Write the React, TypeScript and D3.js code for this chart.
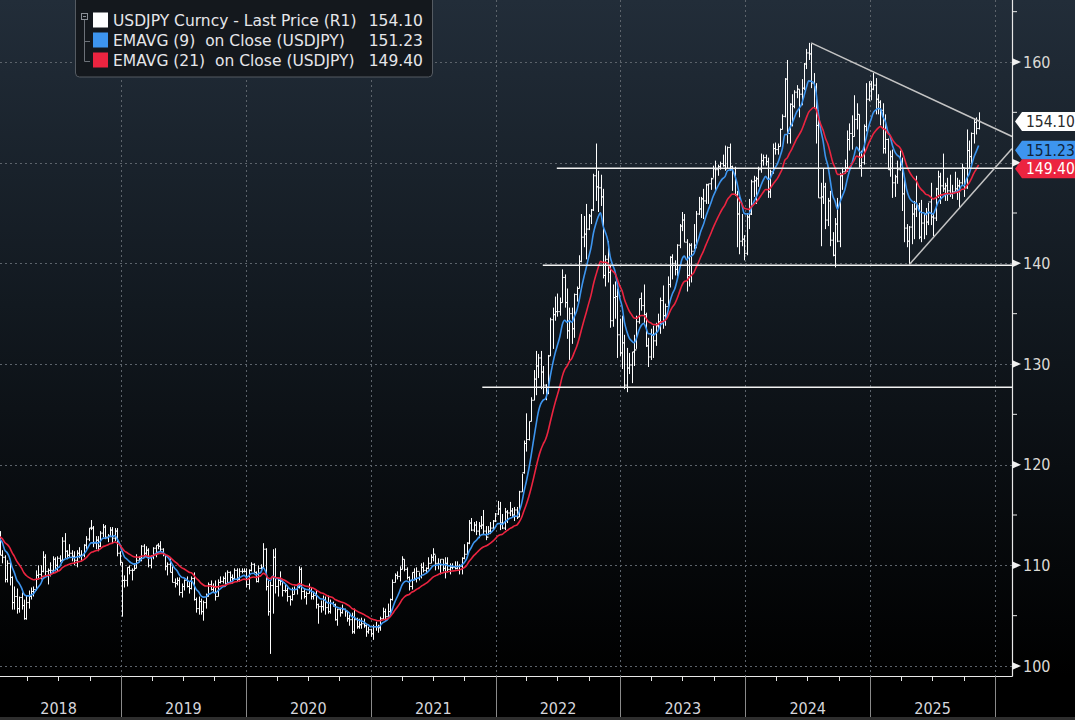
import * as d3 from "d3";

document.body.style.margin = "0";
document.body.style.background = "#000";

const W = 1075;
const H = 720;
const PLOT_R = 1012;
const PLOT_B = 676;

const FONT = "'DejaVu Sans Condensed', 'DejaVu Sans', sans-serif";
const LEGEND_FONT = "'DejaVu Sans', sans-serif";

// weekly bars: [high, low, close]; open = previous close
const firstOpen = 112.7;

const bars2018 = [
  [113.3, 112.0, 113.0], [113.4, 111.0, 111.0], [111.5, 110.2, 110.8], [111.0, 108.3, 108.6],
  [110.5, 108.3, 110.2], [110.5, 108.0, 108.8], [108.9, 105.6, 106.3], [107.9, 105.6, 106.9],
  [107.7, 105.2, 105.7], [106.9, 105.3, 106.8], [107.3, 105.6, 106.0], [106.6, 104.6, 104.7],
  [107.0, 104.6, 106.3], [107.5, 105.7, 106.9], [107.8, 106.6, 107.4], [107.9, 106.9, 107.6],
  [109.5, 107.5, 109.0], [110.0, 108.6, 109.1], [110.0, 108.6, 109.4], [111.4, 109.3, 110.8],
  [111.1, 108.9, 109.4], [109.7, 108.1, 109.5], [110.3, 108.9, 109.5], [110.9, 109.2, 110.6],
  [110.8, 109.4, 110.0], [110.9, 109.4, 110.7], [111.0, 110.3, 110.5], [112.8, 110.3, 112.4],
  [113.2, 110.7, 111.4], [111.5, 110.6, 111.0], [112.1, 110.8, 111.2], [111.5, 110.4, 110.9],
  [111.4, 110.0, 110.5], [111.5, 109.8, 111.2], [111.8, 110.7, 111.0], [111.5, 110.4, 111.0],
  [112.1, 110.8, 112.0], [112.9, 111.6, 112.6], [113.7, 112.4, 113.7], [114.5, 113.5, 113.7],
  [113.9, 111.8, 112.2], [112.9, 111.6, 112.5], [112.9, 111.4, 111.9], [113.4, 111.8, 113.2],
  [114.1, 112.8, 113.8], [114.0, 112.6, 112.8], [113.1, 112.3, 112.9], [113.8, 112.8, 113.5],
  [113.8, 112.2, 112.7], [113.7, 112.4, 113.4], [113.7, 110.9, 111.2], [111.4, 110.0, 110.3],
];

const bars2019 = [
  [110.3, 104.9, 108.5], [109.0, 107.8, 108.5], [109.8, 107.9, 109.8], [110.0, 109.1, 109.5],
  [109.7, 108.5, 109.5], [110.2, 109.5, 109.7], [111.1, 109.7, 110.5], [110.9, 110.3, 110.7],
  [112.0, 110.4, 111.9], [112.1, 110.8, 111.2], [111.9, 110.8, 111.5], [111.7, 109.8, 110.0],
  [111.0, 109.7, 110.9], [111.8, 110.6, 111.7], [112.0, 110.8, 112.0], [112.2, 111.6, 111.9],
  [112.4, 111.4, 111.6], [111.7, 110.9, 111.1], [111.1, 109.5, 109.9], [110.3, 109.0, 110.1],
  [110.7, 109.3, 109.3], [109.9, 108.3, 108.3], [108.7, 107.8, 108.2], [108.8, 108.0, 108.5],
  [108.8, 107.0, 107.3], [108.2, 106.8, 107.9], [108.6, 107.5, 108.5], [108.9, 107.8, 107.9],
  [108.4, 107.2, 107.7], [108.9, 107.6, 108.7], [109.3, 106.5, 106.6], [106.8, 105.3, 105.7],
  [106.9, 105.1, 106.4], [106.7, 105.1, 105.4], [106.5, 104.5, 106.3], [107.2, 105.7, 106.9],
  [108.3, 106.9, 108.1], [108.5, 107.5, 107.6], [108.2, 107.3, 107.9], [108.5, 106.5, 106.9],
  [108.6, 106.9, 108.3], [108.9, 108.2, 108.4], [108.9, 108.2, 108.7], [109.3, 107.9, 108.2],
  [109.5, 108.2, 109.3], [109.4, 108.3, 108.8], [109.1, 108.2, 108.7], [109.7, 108.6, 109.5],
  [109.7, 108.4, 108.6], [109.7, 108.4, 109.4], [109.7, 109.2, 109.4], [109.7, 109.3, 109.4],
];

const bars2020 = [
  [109.7, 107.8, 108.1], [109.6, 107.6, 109.5], [110.3, 109.4, 110.1], [110.2, 109.3, 109.3],
  [109.4, 108.3, 108.4], [110.0, 108.3, 109.7], [110.1, 109.6, 109.8], [112.2, 109.7, 111.6],
  [111.7, 107.5, 107.9], [108.5, 105.0, 105.4], [108.4, 101.2, 108.0], [111.6, 105.2, 110.8],
  [111.7, 107.2, 107.9], [108.7, 106.9, 108.5], [109.4, 108.0, 108.4], [108.5, 106.9, 107.5],
  [108.1, 107.3, 107.5], [107.8, 106.4, 106.9], [107.0, 106.0, 106.6], [107.8, 106.5, 107.1],
  [107.9, 107.1, 107.6], [108.0, 107.1, 107.8], [109.9, 107.7, 109.6], [109.8, 106.6, 107.4],
  [107.7, 106.7, 106.9], [107.4, 106.1, 107.2], [108.2, 107.2, 107.5], [107.8, 106.6, 106.9],
  [107.4, 106.6, 107.0], [107.5, 105.7, 106.1], [106.2, 104.2, 105.9], [106.5, 105.3, 105.9],
  [107.0, 105.5, 106.6], [106.9, 105.1, 105.8], [107.0, 105.2, 105.4], [106.6, 105.2, 106.2],
  [106.4, 105.9, 106.1], [106.2, 104.5, 104.6], [105.7, 104.0, 105.6], [105.8, 104.9, 105.3],
  [106.1, 105.2, 105.6], [105.7, 104.9, 105.4], [105.5, 104.4, 104.7], [105.1, 104.0, 104.6],
  [105.3, 103.2, 103.4], [105.7, 103.2, 104.6], [104.8, 103.7, 103.9], [104.7, 103.7, 104.1],
  [104.8, 103.7, 104.2], [104.7, 103.8, 104.0], [104.2, 102.9, 103.4], [103.9, 103.2, 103.6],
];

const bars2021 = [
  [103.7, 102.9, 103.2], [104.1, 102.6, 103.9], [104.4, 103.5, 103.9], [104.1, 103.3, 103.8],
  [104.9, 103.5, 104.7], [105.8, 104.6, 105.4], [105.7, 104.5, 104.9], [106.2, 104.9, 105.4],
  [106.7, 105.1, 106.6], [108.6, 106.5, 108.3], [109.2, 108.3, 109.0], [109.4, 108.6, 108.9],
  [109.9, 108.4, 109.6], [110.9, 109.6, 110.6], [110.6, 109.4, 109.6], [109.8, 108.6, 108.8],
  [108.9, 107.5, 107.9], [109.3, 107.6, 109.3], [109.7, 108.5, 108.6], [109.8, 108.3, 109.4],
  [109.3, 108.5, 108.9], [110.2, 108.7, 109.8], [110.3, 109.3, 109.5], [109.8, 109.2, 109.7],
  [110.8, 109.6, 110.2], [111.1, 110.2, 110.8], [111.7, 110.4, 111.1], [111.0, 109.5, 110.2],
  [110.7, 109.6, 110.1], [110.6, 109.1, 110.6], [110.6, 109.4, 109.7], [110.8, 108.7, 110.2],
  [110.8, 109.3, 109.6], [110.2, 109.1, 109.8], [110.2, 109.6, 109.8], [110.4, 109.6, 109.7],
  [110.4, 109.6, 109.9], [110.1, 109.1, 109.9], [110.8, 109.1, 110.7], [112.1, 110.6, 111.1],
  [112.3, 110.8, 112.2], [114.5, 112.1, 114.2], [114.7, 113.4, 113.5], [114.3, 113.3, 114.0],
  [114.4, 113.0, 113.4], [114.3, 112.7, 113.9], [114.9, 113.6, 114.0], [115.5, 113.0, 113.4],
  [113.9, 112.5, 112.8], [113.9, 113.0, 113.4], [114.3, 113.1, 113.7], [114.5, 113.5, 114.4],
  [115.2, 114.3, 115.1],
];

const bars2022 = [
  [116.4, 115.0, 115.6], [116.3, 113.5, 114.2], [115.1, 113.6, 113.7], [115.7, 113.5, 115.3],
  [115.5, 114.2, 115.2], [116.3, 114.9, 115.4], [115.7, 114.7, 115.0], [115.8, 114.4, 115.5],
  [115.8, 114.6, 114.8], [117.4, 114.8, 117.3], [119.1, 117.3, 119.2], [122.4, 119.1, 122.1],
  [125.1, 121.3, 122.5], [124.3, 122.4, 124.3], [126.7, 124.3, 126.4], [129.4, 126.4, 128.5],
  [131.3, 126.9, 129.8], [131.0, 128.6, 130.6], [131.3, 127.5, 129.2], [129.8, 127.0, 127.9],
  [128.0, 126.4, 127.1], [130.9, 127.0, 130.8], [134.6, 130.8, 134.4], [135.6, 131.5, 134.9],
  [136.7, 134.3, 135.2], [137.0, 134.7, 135.2], [136.6, 134.8, 136.1], [139.4, 136.1, 138.6],
  [138.9, 135.6, 136.1], [137.5, 132.5, 133.3], [135.6, 130.4, 135.0], [135.6, 132.0, 133.5],
  [137.0, 132.6, 136.9], [137.7, 136.2, 137.5], [140.8, 137.5, 140.2], [144.9, 140.1, 142.6],
  [144.7, 141.6, 142.9], [145.9, 140.4, 143.4], [144.9, 143.3, 144.7], [145.4, 143.9, 145.3],
  [148.9, 145.2, 148.7], [151.9, 146.2, 147.6], [149.2, 145.1, 147.5], [148.8, 145.7, 146.6],
  [147.4, 138.5, 138.8], [140.8, 137.7, 140.4], [142.2, 138.1, 139.1], [139.8, 133.6, 134.3],
  [137.9, 133.7, 136.6], [138.2, 134.5, 136.7], [137.5, 130.6, 132.9], [134.5, 130.8, 131.1],
];

const bars2023 = [
  [134.8, 129.5, 132.1], [132.9, 127.5, 127.9], [131.6, 127.2, 129.6], [131.1, 129.0, 129.9],
  [131.2, 128.1, 131.2], [132.9, 129.8, 131.4], [134.8, 131.5, 134.2], [136.5, 134.0, 136.5],
  [137.1, 135.3, 135.8], [137.9, 134.1, 134.9], [135.1, 131.7, 131.8], [132.6, 129.7, 130.7],
  [133.5, 130.4, 132.9], [133.8, 130.6, 132.3], [134.1, 131.8, 133.8], [135.0, 133.4, 134.2],
  [136.6, 133.0, 136.3], [137.8, 133.5, 134.8], [136.0, 133.8, 135.7], [138.7, 135.6, 137.9],
  [140.7, 137.6, 140.6], [140.9, 138.4, 140.0], [140.3, 138.8, 139.4], [141.9, 138.7, 141.8],
  [143.9, 141.5, 143.7], [145.1, 143.2, 144.3], [144.9, 142.1, 142.1], [142.4, 137.2, 138.8],
  [142.0, 137.7, 141.8], [142.0, 138.1, 141.2], [143.9, 141.4, 141.8], [145.2, 141.5, 144.9],
  [146.6, 144.8, 145.4], [146.6, 144.5, 146.4], [147.4, 144.4, 146.2], [147.9, 145.9, 147.8],
  [147.9, 145.9, 147.9], [148.5, 147.3, 148.4], [149.7, 148.5, 149.4], [150.2, 147.3, 149.3],
  [149.8, 148.7, 149.6], [150.1, 149.3, 149.9], [150.8, 149.6, 149.7], [151.7, 149.2, 149.4],
  [151.6, 149.4, 151.5], [151.9, 149.2, 149.6], [149.7, 147.2, 149.4], [149.6, 146.7, 146.8],
  [147.2, 141.6, 144.9], [146.6, 140.9, 142.2], [144.9, 141.7, 142.4], [142.8, 140.3, 141.0],
];

const bars2024 = [
  [145.0, 140.8, 144.6], [146.4, 143.4, 144.9], [148.3, 144.8, 148.1], [148.7, 146.6, 148.2],
  [148.6, 145.9, 148.4], [149.6, 147.6, 149.3], [150.9, 149.0, 150.2], [150.8, 149.7, 150.5],
  [150.8, 149.7, 150.1], [150.5, 146.5, 147.1], [149.3, 146.5, 149.1], [151.9, 148.9, 151.4],
  [152.0, 150.8, 151.3], [151.9, 150.8, 151.6], [153.4, 151.6, 153.3], [154.8, 153.3, 154.6],
  [158.4, 154.5, 158.3], [160.2, 151.9, 152.9], [155.9, 151.9, 155.8], [156.8, 153.6, 155.6],
  [157.2, 155.4, 157.0], [157.7, 156.4, 157.3], [157.3, 154.5, 156.8], [158.3, 155.7, 157.4],
  [159.9, 157.2, 159.8], [161.3, 159.3, 160.9], [161.9, 160.2, 160.8], [161.8, 157.4, 157.9],
  [158.9, 155.4, 157.5], [157.9, 151.9, 153.7], [155.2, 146.5, 146.5], [148.0, 141.7, 146.6],
  [149.4, 145.9, 147.6], [148.0, 143.4, 144.3], [146.5, 143.7, 146.2], [147.2, 141.7, 142.3],
  [143.1, 140.7, 140.8], [144.5, 139.6, 143.9], [146.5, 142.1, 142.2], [149.0, 141.6, 148.7],
  [149.5, 147.3, 149.1], [150.3, 148.9, 149.5], [153.2, 149.1, 152.3], [153.9, 151.2, 152.9],
  [154.7, 151.3, 152.6], [156.7, 152.6, 154.3], [155.9, 153.3, 154.8], [154.8, 149.5, 149.7],
  [151.2, 148.6, 150.0], [153.8, 149.8, 153.6], [157.9, 153.1, 156.3], [158.1, 156.1, 157.8],
];

const bars2025 = [
  [158.1, 156.2, 157.3], [158.9, 157.2, 157.7], [158.4, 154.8, 156.3], [156.8, 154.8, 156.0],
  [156.2, 153.7, 155.2], [155.9, 150.9, 151.4], [154.8, 150.9, 152.3], [152.4, 149.3, 149.3],
  [151.2, 148.6, 150.6], [151.3, 146.5, 148.0], [148.8, 146.6, 148.6], [150.2, 147.9, 149.3],
  [151.2, 149.2, 149.8], [150.5, 145.2, 146.9], [148.3, 142.1, 143.5], [143.9, 141.6, 142.2],
  [143.7, 139.9, 143.6], [145.9, 141.9, 144.9], [146.2, 142.4, 145.4], [148.7, 144.6, 145.7],
  [146.0, 142.4, 142.6], [146.3, 142.1, 144.0], [144.9, 142.4, 144.9], [145.5, 142.8, 144.1],
  [146.0, 143.8, 146.1], [148.0, 143.8, 144.6], [145.0, 142.7, 144.5], [147.5, 144.2, 147.4],
  [149.2, 146.5, 148.6], [149.0, 145.9, 147.7], [150.9, 147.1, 147.4], [148.0, 146.2, 147.7],
  [148.5, 146.2, 147.2], [148.8, 146.6, 146.9], [147.8, 146.4, 147.1], [149.1, 147.0, 147.4],
  [148.5, 146.3, 147.7], [148.3, 145.5, 148.0], [149.9, 147.8, 149.5], [149.5, 146.6, 147.5],
  [153.3, 147.4, 151.2], [152.2, 149.4, 150.6], [153.0, 149.9, 152.9], [154.4, 151.9, 154.0],
  [154.5, 152.8, 153.4], [155.0, 153.3, 154.1],
];

const yearFirstFriday = [
  "2018-01-05", "2019-01-04", "2020-01-03", "2021-01-01",
  "2022-01-07", "2023-01-06", "2024-01-05", "2025-01-03",
];
const yearBars = [bars2018, bars2019, bars2020, bars2021, bars2022, bars2023, bars2024, bars2025];

const years = [2018, 2019, 2020, 2021, 2022, 2023, 2024, 2025];
const priceTicks = [100, 110, 120, 130, 140, 150, 160];
const minorPriceTicks = [105, 115, 125, 135, 145, 155, 165];
// the 150 label sits under the value tags and is not visible
const hiddenTickLabels = [150];

const legendLabels = [
  "USDJPY Curncy - Last Price (R1)",
  "EMAVG (9)  on Close (USDJPY)",
  "EMAVG (21)  on Close (USDJPY)",
];
const legendValues = ["154.10", "151.23", "149.40"];
const seriesColors = ["#ffffff", "#3d95ef", "#ec2440"];
const tagTextColors = ["#2a2a2a", "#10243a", "#ffffff"];
const emaPeriods = [9, 21];

// drawn support levels and trend lines (date, price)
const supportLevels = [
  { from: "2022-06-29", value: 149.45 },
  { from: "2022-05-19", value: 139.8 },
  { from: "2021-11-23", value: 127.7 },
];
const trendLines = [
  { d0: "2024-07-12", v0: 161.9, d1: "2026-02-20", v1: 152.6 },
  { d0: "2025-04-26", v0: 139.9, d1: "2026-02-20", v1: 151.4 },
];

type Week = { date: Date; o: number; h: number; l: number; c: number };

const parse = d3.utcParse("%Y-%m-%d");

const weeks: Week[] = [];
let prevClose = firstOpen;
yearBars.forEach((bars, yi) => {
  const start = parse(yearFirstFriday[yi]) as Date;
  bars.forEach(([h, l, c], i) => {
    weeks.push({ date: d3.utcDay.offset(start, i * 7), o: prevClose, h, l, c });
    prevClose = c;
  });
});

function ema(values: number[], n: number) {
  const k = 2 / (n + 1);
  const out: number[] = [];
  values.forEach((v, i) => out.push(i === 0 ? v : v * k + out[i - 1] * (1 - k)));
  return out;
}

export default function App() {
  const x = d3
    .scaleUtc()
    .domain([new Date(Date.UTC(2019, 0, 1)), new Date(Date.UTC(2026, 0, 1))])
    .range([121, 995]);
  const y = d3.scaleLinear().domain([100, 160]).range([666, 62]);

  const closes = weeks.map((w) => w.c);
  const emas = emaPeriods.map((n) => ema(closes, n));
  const line = d3
    .line<number>()
    .x((_, i) => x(weeks[i].date))
    .y((v) => y(v))
    .curve(d3.curveMonotoneX);

  const yearStart = (yr: number) => x(new Date(Date.UTC(yr, 0, 1)));
  const quarterTicks: number[] = [];
  for (let yr = 2017; yr <= 2026; yr++) {
    [3, 6, 9].forEach((m) => {
      const px = x(new Date(Date.UTC(yr, m, 1)));
      if (px > 0 && px < PLOT_R) quarterTicks.push(px);
    });
  }
  const yearLines = [...years.slice(1), 2026].map(yearStart);

  return (
    <svg width={W} height={H} style={{ display: "block", background: "#000" }} fontFamily={FONT}>
      <defs>
        <linearGradient id="bg" x1="0" y1="0" x2="0" y2="1">
          <stop offset="0" stopColor="#222d39" />
          <stop offset="0.45" stopColor="#121920" />
          <stop offset="1" stopColor="#000000" />
        </linearGradient>
        <clipPath id="plot">
          <rect x={0} y={0} width={PLOT_R} height={PLOT_B} />
        </clipPath>
      </defs>

      <rect x={0} y={0} width={W} height={PLOT_B} fill="url(#bg)" />
      <rect x={0} y={PLOT_B} width={W} height={H - PLOT_B} fill="#000" />
      <rect x={0} y={717} width={W} height={3} fill="#2e2e2e" />

      {/* grid */}
      <g stroke="#5c636b" strokeDasharray="2,3" strokeWidth={1}>
        {priceTicks.map((t) => (
          <line key={t} x1={0} x2={PLOT_R} y1={Math.round(y(t)) + 0.5} y2={Math.round(y(t)) + 0.5} />
        ))}
        {yearLines.map((px, i) => (
          <line key={i} x1={Math.round(px) + 0.5} x2={Math.round(px) + 0.5} y1={0} y2={PLOT_B} />
        ))}
      </g>

      <g clipPath="url(#plot)">
        {/* OHLC bars */}
        <g stroke="#ffffff" strokeWidth={1} fill="none">
          {weeks.map((w, i) => {
            const px = Math.round(x(w.date)) + 0.5;
            return (
              <path
                key={i}
                d={`M${px},${y(w.h)}V${y(w.l)}M${px - 1.3},${y(w.o)}H${px}M${px},${y(w.c)}H${px + 1.3}`}
              />
            );
          })}
        </g>

        {emas.map((e, i) => (
          <path key={i} d={line(e) || ""} fill="none" stroke={seriesColors[i + 1]} strokeWidth={1.6} />
        ))}

        {supportLevels.map((s, i) => (
          <line
            key={i}
            x1={x(parse(s.from) as Date)}
            x2={PLOT_R}
            y1={y(s.value)}
            y2={y(s.value)}
            stroke="#f2f2f2"
            strokeWidth={1.5}
          />
        ))}
        {trendLines.map((t, i) => (
          <line
            key={i}
            x1={x(parse(t.d0) as Date)}
            y1={y(t.v0)}
            x2={x(parse(t.d1) as Date)}
            y2={y(t.v1)}
            stroke="#c4c4c4"
            strokeWidth={1.5}
          />
        ))}
      </g>

      {/* axes frame */}
      <line x1={0} x2={PLOT_R + 0.5} y1={PLOT_B + 0.5} y2={PLOT_B + 0.5} stroke="#e8e8e8" strokeWidth={1.2} />
      <line x1={PLOT_R + 0.5} x2={PLOT_R + 0.5} y1={0} y2={PLOT_B + 0.5} stroke="#e8e8e8" strokeWidth={1.2} />

      {/* right price axis */}
      {minorPriceTicks.map((t) => (
        <line key={t} x1={PLOT_R} x2={PLOT_R + 5} y1={y(t)} y2={y(t)} stroke="#e8e8e8" />
      ))}
      {priceTicks.map((t) => (
        <g key={t} transform={`translate(${PLOT_R},${y(t)})`}>
          <path d="M0,-4L9,0L0,4Z" fill="#f0f0f0" />
          {!hiddenTickLabels.includes(t) && (
            <text x={11} y={0} dy="0.36em" fontSize={16} fill="#dcdad6">
              {t}
            </text>
          )}
        </g>
      ))}

      {/* value tags */}
      {legendValues.map((v, i) => {
        const cy = y(+v);
        return (
          <g key={v} transform={`translate(1015,${cy})`}>
            <path d="M0,0L7,-9.5H60V9.5H7Z" fill={seriesColors[i]} />
            <text x={11} y={0} dy="0.36em" fontSize={15.5} fill={tagTextColors[i]}>
              {v}
            </text>
          </g>
        );
      })}

      {/* bottom time axis */}
      {quarterTicks.map((px, i) => (
        <line key={i} x1={Math.round(px) + 0.5} x2={Math.round(px) + 0.5} y1={PLOT_B} y2={PLOT_B + 5} stroke="#e8e8e8" />
      ))}
      {yearLines.map((px, i) => (
        <line key={i} x1={Math.round(px) + 0.5} x2={Math.round(px) + 0.5} y1={PLOT_B} y2={717} stroke="#8a8a8a" />
      ))}
      {years.map((yr) => (
        <text
          key={yr}
          x={(yearStart(yr) + yearStart(yr + 1)) / 2}
          y={714}
          textAnchor="middle"
          fontSize={16}
          fill="#d6d6dc"
        >
          {yr}
        </text>
      ))}

      {/* legend */}
      <g fontFamily={LEGEND_FONT}>
        <rect x={75.5} y={-4} width={357} height={81} rx={4} fill="#14181d" stroke="#555b62" />
        <rect x={81.5} y={13.5} width={6} height={6} fill="none" stroke="#8a8f96" />
        <line x1={83} x2={86} y1={16.5} y2={16.5} stroke="#8a8f96" />
        <path d="M84.5,20V61.5H90M84.5,41.5H90" fill="none" stroke="#6c7178" />
        {legendLabels.map((lab, i) => (
          <g key={lab} transform={`translate(0,${20 + i * 20})`}>
            <rect x={93} y={-7.5} width={15} height={15} fill={seriesColors[i]} />
            <text x={113} y={0} dy="0.36em" fontSize={15.5} fill="#e6e6ea" style={{ whiteSpace: "pre" }}>
              {lab}
            </text>
            <text x={423} y={0} dy="0.36em" fontSize={15.5} fill="#e6e6ea" textAnchor="end">
              {legendValues[i]}
            </text>
          </g>
        ))}
      </g>
    </svg>
  );
}
